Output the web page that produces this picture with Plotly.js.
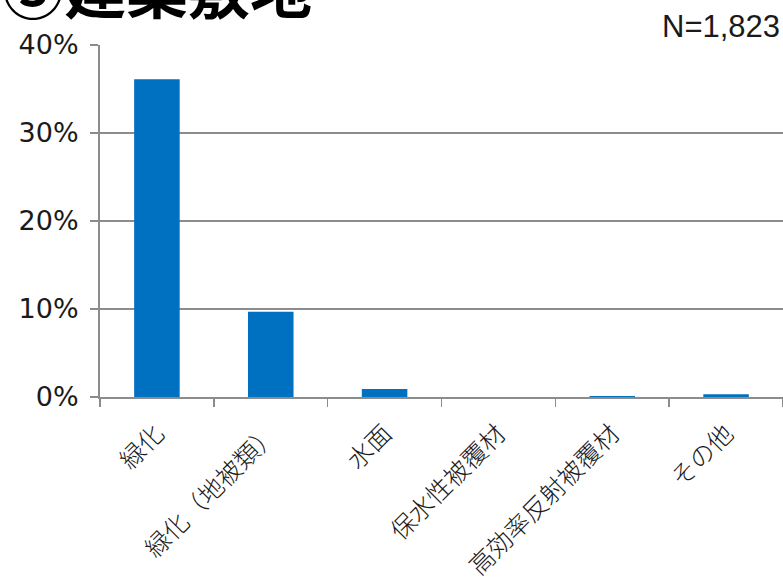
<!DOCTYPE html>
<html>
<head>
<meta charset="utf-8">
<script src="https://cdn.plot.ly/plotly-3.0.1.min.js"></script>
<style>
  html, body { margin: 0; padding: 0; background: #fff; }
  #chart { width: 783px; height: 580px; }
</style>
</head>
<body>
<div id="chart"></div>
<script>
// 対策の種類ごとの回答割合 (%)
const categories = ['緑化', '緑化（地被類）', '水面', '保水性被覆材', '高効率反射被覆材', 'その他'];
const shares = [36.1, 9.7, 0.9, 0, 0.1, 0.3];
const yTicks = [0, 10, 20, 30, 40];
const sampleNote = 'N=1,823';
const headline = '③建築敷地';

const labelFont = '"Noto Sans CJK JP", "Noto Sans", sans-serif';
const numberFont = '"DejaVu Sans", sans-serif';

const trace = {
  type: 'bar',
  x: categories,
  y: shares,
  marker: { color: '#0070C0', line: { width: 0 } },
  hoverinfo: 'x+y'
};

const layout = {
  width: 783,
  height: 580,
  margin: { l: 100, r: 0, t: 45, b: 183 },
  paper_bgcolor: '#ffffff',
  plot_bgcolor: '#ffffff',
  showlegend: false,
  bargap: 0.6,
  font: { family: labelFont, color: '#1a1a1a' },
  xaxis: {
    type: 'category',
    tickson: 'boundaries',
    ticks: 'outside',
    ticklen: 8,
    tickwidth: 1.5,
    tickcolor: '#8c8c8c',
    showline: true,
    linecolor: '#8c8c8c',
    linewidth: 2,
    showgrid: false,
    tickangle: -45,
    ticklabelstandoff: 10,
    tickfont: { family: labelFont, size: 25, weight: 300, color: '#1a1a1a' },
    fixedrange: true
  },
  yaxis: {
    range: [0, 40],
    tickvals: yTicks,
    ticktext: yTicks.map(v => v + '%'),
    ticks: 'outside',
    ticklen: 8,
    tickwidth: 1.5,
    tickcolor: '#8c8c8c',
    showline: true,
    linecolor: '#8c8c8c',
    linewidth: 2,
    showgrid: true,
    gridcolor: '#8c8c8c',
    gridwidth: 1.5,
    zeroline: false,
    ticklabelstandoff: 6,
    tickfont: { family: numberFont, size: 27, color: '#1a1a1a' },
    fixedrange: true
  },
  annotations: [
    {
      text: sampleNote,
      xref: 'paper', yref: 'paper',
      x: 1, y: 1,
      xanchor: 'right', yanchor: 'bottom',
      xshift: -1,
      yshift: -1,
      showarrow: false,
      font: { family: '"Liberation Sans", Arial, sans-serif', size: 31, color: '#1a1a1a' }
    },
    {
      text: '<b>' + headline + '</b>',
      xref: 'paper', yref: 'paper',
      x: 0, y: 1,
      xshift: -100,
      yshift: 11,
      xanchor: 'left', yanchor: 'bottom',
      showarrow: false,
      font: { family: '"Noto Sans CJK JP", sans-serif', size: 62, color: '#000000' }
    }
  ]
};

Plotly.newPlot('chart', [trace], layout, { staticPlot: true, displayModeBar: false });
</script>
</body>
</html>
